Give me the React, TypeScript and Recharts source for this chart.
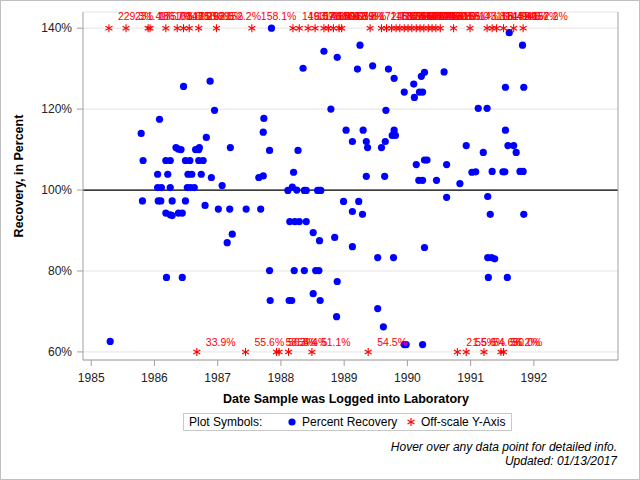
import {
    ScatterChart, Scatter, XAxis, YAxis, CartesianGrid, ReferenceLine
} from 'recharts';

const FONT = '"Liberation Sans", Arial, sans-serif';

const yearTicks = [1985, 1986, 1987, 1988, 1989, 1990, 1991, 1992];
const pctTicks = [60, 80, 100, 120, 140];

// percent recovery, sample log date as decimal year
const recoveryDates = [
    1985.30, 1985.79, 1985.81, 1985.82, 1986.05, 1986.05, 1986.06, 1986.08, 1986.10, 1986.11,
    1986.18, 1986.18, 1986.19, 1986.21, 1986.25, 1986.25, 1986.25, 1986.28, 1986.28, 1986.34,
    1986.38, 1986.38, 1986.42, 1986.44, 1986.44, 1986.46, 1986.49, 1986.49, 1986.52, 1986.53,
    1986.56, 1986.57, 1986.59, 1986.63, 1986.65, 1986.70, 1986.70, 1986.71, 1986.74, 1986.77,
    1986.80, 1986.82, 1986.88, 1986.90, 1986.95, 1987.01, 1987.07, 1987.15, 1987.19, 1987.20,
    1987.23, 1987.45, 1987.65, 1987.68, 1987.72, 1987.72, 1987.73, 1987.82, 1987.82, 1987.83,
    1987.85, 1988.11, 1988.13, 1988.14, 1988.17, 1988.18, 1988.20, 1988.21, 1988.22, 1988.25,
    1988.27, 1988.29, 1988.35, 1988.37, 1988.37, 1988.40, 1988.40, 1988.51, 1988.51, 1988.55,
    1988.58, 1988.60, 1988.61, 1988.61, 1988.62, 1988.63, 1988.68, 1988.79, 1988.85, 1988.88,
    1988.89, 1988.89, 1988.99, 1989.03, 1989.13, 1989.13, 1989.13, 1989.21, 1989.23, 1989.25,
    1989.29, 1989.30, 1989.35, 1989.35, 1989.37, 1989.45, 1989.53, 1989.53, 1989.59, 1989.62,
    1989.64, 1989.65, 1989.66, 1989.70, 1989.76, 1989.78, 1989.79, 1989.79, 1989.81, 1989.95,
    1989.95, 1989.98, 1990.10, 1990.11, 1990.14, 1990.18, 1990.19, 1990.22, 1990.24, 1990.24,
    1990.24, 1990.27, 1990.27, 1990.27, 1990.31, 1990.46, 1990.58, 1990.62, 1990.62, 1990.83,
    1990.93, 1991.02, 1991.08, 1991.12, 1991.20, 1991.26, 1991.27, 1991.27, 1991.28, 1991.31,
    1991.33, 1991.34, 1991.38, 1991.51, 1991.54, 1991.55, 1991.55, 1991.58, 1991.59, 1991.61,
    1991.68, 1991.72, 1991.78, 1991.82, 1991.83, 1991.84, 1991.84,
];
const recoveryPct = [
    62.6, 114.0, 97.3, 107.3, 103.9, 100.6, 97.3, 117.5, 97.3, 100.6,
    107.3, 94.3, 78.4, 103.9, 107.3, 100.6, 93.9, 97.3, 93.7, 110.5,
    110.1, 94.3, 110.0, 94.3, 78.4, 125.6, 107.3, 97.3, 100.6, 103.9,
    107.3, 100.6, 103.9, 100.6, 110.0, 110.0, 107.3, 110.5, 103.9, 107.3,
    96.2, 113.0, 126.9, 103.1, 119.7, 95.3, 101.1, 87.0, 95.3, 110.5,
    89.1, 95.3, 103.1, 95.3, 114.3, 103.5, 117.7, 109.8, 80.1, 72.7,
    140.0, 99.9, 72.7, 92.2, 72.7, 100.7, 104.4, 80.1, 92.2, 100.0,
    109.8, 92.2, 130.1, 99.9, 80.1, 99.9, 92.2, 89.5, 74.4, 80.1,
    99.9, 80.1, 99.9, 87.5, 72.7, 99.9, 134.3, 120.0, 88.3, 68.7,
    132.8, 77.4, 97.2, 114.8, 112.0, 94.7, 86.0, 129.9, 97.2, 135.8,
    94.0, 114.8, 112.0, 103.4, 110.5, 130.7, 83.3, 70.7, 110.5, 66.2,
    103.4, 112.0, 119.7, 129.9, 113.5, 83.3, 127.6, 114.8, 113.5, 124.2,
    61.8, 61.8, 126.2, 122.9, 106.3, 102.4, 124.2, 128.1, 124.2, 102.4,
    61.8, 129.1, 107.4, 85.8, 107.4, 102.4, 129.2, 106.3, 98.2, 101.6,
    111.0, 104.4, 104.5, 120.2, 109.3, 120.2, 98.4, 83.3, 78.4, 94.0,
    83.3, 104.6, 83.0, 104.5, 104.5, 125.4, 114.8, 78.4, 111.0, 138.9,
    111.0, 109.3, 104.6, 135.8, 104.6, 125.4, 94.0,
];

// values above the axis, drawn at 140% with the real value as label
const highDates = [
    1985.28, 1985.55, 1985.90, 1985.93, 1986.18, 1986.36, 1986.46, 1986.55, 1986.70, 1986.98,
    1987.54, 1988.19, 1988.29, 1988.43, 1988.54, 1988.68, 1988.75, 1988.83, 1988.92, 1988.96,
    1989.41, 1989.59, 1989.67, 1989.75, 1989.82, 1989.88, 1989.95, 1990.01, 1990.07, 1990.14,
    1990.20, 1990.26, 1990.33, 1990.39, 1990.45, 1990.52, 1990.73, 1990.99, 1991.26, 1991.34,
    1991.41, 1991.52, 1991.68, 1991.83,
];
const highLabels = [
    '229.3%', '231.4%', '186.7%', '175.0%', '163.6%', '148.2%', '171.9%', '156.3%', '162.5%', '152.2%',
    '158.1%', '149.0%', '163.2%', '157.9%', '146.4%', '188.9%', '150.0%', '166.7%', '142.9%', '153.8%',
    '172.7%', '145.5%', '161.1%', '180.0%', '147.4%', '155.6%', '141.2%', '169.2%', '150.0%', '144.4%',
    '157.1%', '162.5%', '148.6%', '175.0%', '143.3%', '160.0%', '155.0%', '143.8%', '168.4%', '151.9%',
    '144.4%', '159.1%', '146.7%', '152.2%',
];

// values below the axis, drawn at 60%
const lowDates = [
    1986.67, 1987.44, 1987.93, 1987.97, 1988.12, 1988.49, 1989.38, 1990.79, 1990.93, 1991.21,
    1991.48, 1991.52,
];
const lowLabels = [
    '33.9%', '55.6%', '58.3%', '56.5%', '54.4%', '51.1%', '54.5%', '21.5%', '55.6%', '54.6%',
    '56.2%', '50.0%',
];

const recoveryData = recoveryDates.map((d, i) => ({ date: d, pct: recoveryPct[i] }));
const offscaleData = [
    ...highDates.map((d, i) => ({ date: d, pct: 140, label: highLabels[i], high: true })),
    ...lowDates.map((d, i) => ({ date: d, pct: 60, label: lowLabels[i], high: false })),
];

function Dot(props: any) {
    const { cx, cy } = props;
    return <circle cx={cx} cy={cy} r={3.6} fill="#0000ff" />;
}

function Star(props: any) {
    const { cx, cy, payload } = props;
    const r = 4;
    const dx = r * Math.cos(Math.PI / 6);
    const dy = r * Math.sin(Math.PI / 6);
    return (
        <g>
            <g stroke="#ff0000" strokeWidth={1.1}>
                <line x1={cx} y1={cy - r} x2={cx} y2={cy + r} />
                <line x1={cx - dx} y1={cy - dy} x2={cx + dx} y2={cy + dy} />
                <line x1={cx - dx} y1={cy + dy} x2={cx + dx} y2={cy - dy} />
            </g>
            <text x={cx + 9} y={payload.high ? cy - 8 : cy - 6} fill="#ff0000"
                fontSize={10.5} fontFamily={FONT}>
                {payload.label}
            </text>
        </g>
    );
}

export default function App() {
    const axisColor = '#a0a0a0';
    const tickStyle = { fill: '#222', fontSize: 12, fontFamily: FONT };

    return (
        <div style={{ position: 'absolute', left: 0, top: 0, width: 640, height: 480, background: '#fff', fontFamily: FONT }}>
            <ScatterChart width={640} height={480} margin={{ top: 12, right: 0, bottom: 0, left: 0 }}>
                <CartesianGrid vertical={false} stroke="#e4e4e4" />
                <XAxis xAxisId="top" orientation="top" dataKey="date" type="number"
                    domain={[1984.87, 1993.33]} allowDataOverflow height={0}
                    tick={false} tickLine={false} stroke={axisColor} />
                <XAxis dataKey="date" type="number" domain={[1984.87, 1993.33]} allowDataOverflow
                    ticks={yearTicks} height={120} tickSize={6} tickMargin={7}
                    stroke={axisColor} tick={tickStyle}
                    label={{
                        content: () => (
                            <text x={346} y={403} textAnchor="middle" fontSize={12.5}
                                fontWeight="bold" fontFamily={FONT} fill="#000">
                                Date Sample was Logged into Laboratory
                            </text>
                        )
                    }} />
                <YAxis dataKey="pct" type="number" domain={[58, 144]} allowDataOverflow
                    ticks={pctTicks} width={83} tickSize={6} tickMargin={5}
                    stroke={axisColor} tick={tickStyle} tickFormatter={(v) => `${v}%`}
                    label={{
                        content: () => (
                            <text x={23} y={176} textAnchor="middle" fontSize={12.5}
                                fontWeight="bold" fontFamily={FONT} fill="#000"
                                transform="rotate(-90 23 176)">
                                Recovery, in Percent
                            </text>
                        )
                    }} />
                <YAxis yAxisId="right" orientation="right" type="number" domain={[58, 144]}
                    ticks={pctTicks} width={22} tickSize={6} stroke={axisColor}
                    tickFormatter={() => ''} />
                <ReferenceLine y={100} stroke="#000" strokeWidth={1.2} />
                <Scatter data={recoveryData} shape={Dot} isAnimationActive={false} />
                <Scatter data={offscaleData} shape={Star} isAnimationActive={false} />
            </ScatterChart>

            <div style={{
                position: 'absolute', left: 183, top: 413, width: 329, height: 18,
                boxSizing: 'border-box', border: '1px solid #c8c8c8', fontSize: 12, lineHeight: '16px',
                color: '#000', whiteSpace: 'nowrap'
            }}>
                <span style={{ position: 'absolute', left: 5, top: 0 }}>Plot Symbols:</span>
                <svg width={10} height={10} style={{ position: 'absolute', left: 103, top: 3 }}>
                    <circle cx={5} cy={5} r={3.6} fill="#0000ff" />
                </svg>
                <span style={{ position: 'absolute', left: 118, top: 0 }}>Percent Recovery</span>
                <svg width={10} height={10} style={{ position: 'absolute', left: 222, top: 3 }}>
                    <g stroke="#ff0000" strokeWidth={1.1}>
                        <line x1={5} y1={1} x2={5} y2={9} />
                        <line x1={1.5} y1={3} x2={8.5} y2={7} />
                        <line x1={1.5} y1={7} x2={8.5} y2={3} />
                    </g>
                </svg>
                <span style={{ position: 'absolute', left: 237, top: 0 }}>Off-scale Y-Axis</span>
            </div>

            <div style={{
                position: 'absolute', right: 23, top: 440, fontSize: 12, lineHeight: '14px',
                fontStyle: 'italic', textAlign: 'right', color: '#000', whiteSpace: 'nowrap'
            }}>
                <div>Hover over any data point for detailed info.</div>
                <div>Updated: 01/13/2017</div>
            </div>

            <div style={{
                position: 'absolute', left: 0, top: 0, width: 640, height: 480,
                boxSizing: 'border-box', border: '1px solid #c0c0c0', pointerEvents: 'none'
            }} />
        </div>
    );
}
